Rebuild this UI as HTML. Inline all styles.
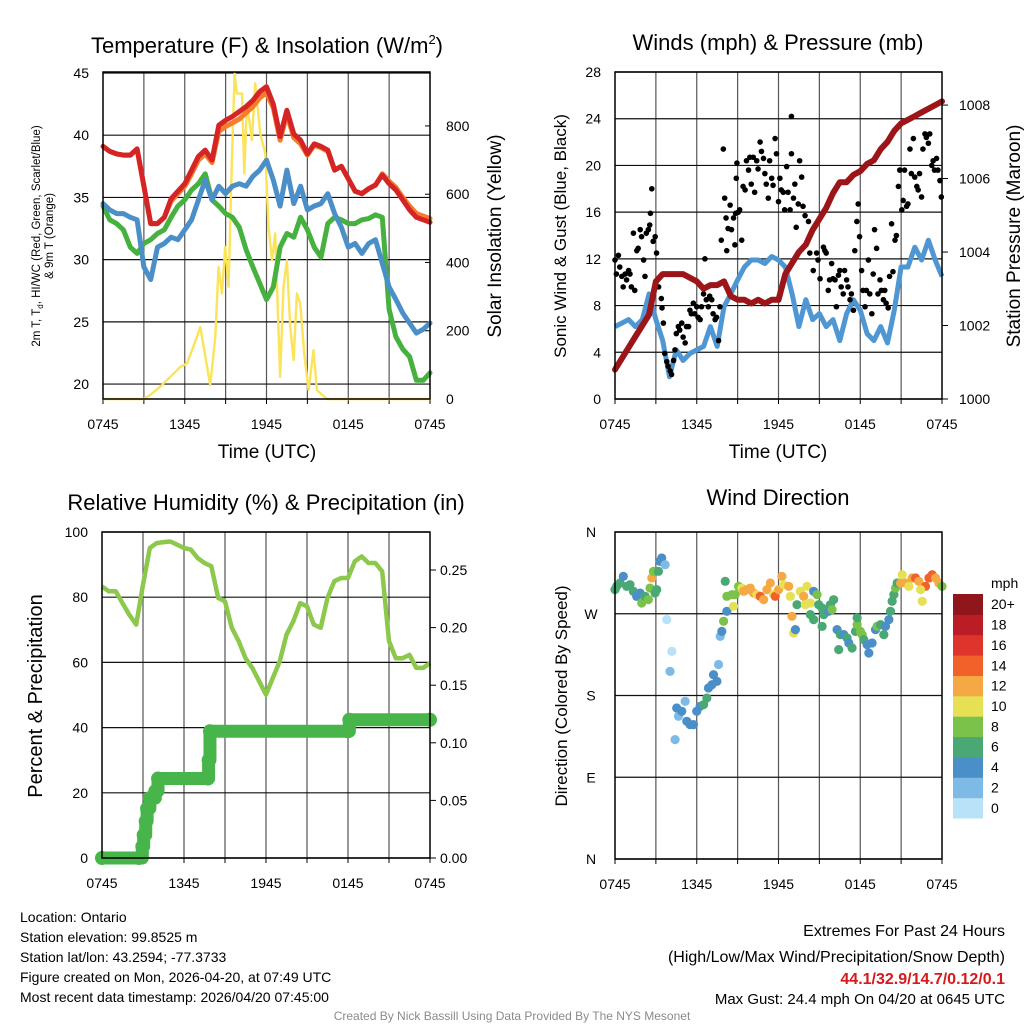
<!DOCTYPE html>
<html><head><meta charset="utf-8"><style>
html,body{margin:0;padding:0;background:#fff;}
svg{display:block;font-family:"Liberation Sans",Arial,sans-serif;}
</style></head><body>
<svg id="s" width="1024" height="1024" viewBox="0 0 1024 1024" xmlns="http://www.w3.org/2000/svg">
<g><text x="267" y="53" font-size="22" text-anchor="middle">Temperature (F) &amp; Insolation (W/m<tspan font-size="13" dy="-9">2</tspan><tspan dy="9">)</tspan></text></g>
<text x="778" y="50" font-size="22" text-anchor="middle">Winds (mph) &amp; Pressure (mb)</text>
<text x="266" y="510" font-size="22" text-anchor="middle">Relative Humidity (%) &amp; Precipitation (in)</text>
<text x="778" y="505" font-size="22" text-anchor="middle">Wind Direction</text>
<text x="267" y="458" font-size="19" text-anchor="middle">Time (UTC)</text>
<text x="778" y="458" font-size="19" text-anchor="middle">Time (UTC)</text>
<g><text transform="translate(40,236) rotate(-90)" font-size="11.5" text-anchor="middle">2m T, T<tspan font-size="8" dy="3">d</tspan><tspan dy="-3">, HI/WC (Red, Green, Scarlet/Blue)</tspan></text>
<text transform="translate(53,236) rotate(-90)" font-size="11.5" text-anchor="middle">&amp; 9m T (Orange)</text></g>
<text transform="translate(501,236) rotate(-90)" font-size="19" text-anchor="middle">Solar Insolation (Yellow)</text>
<text transform="translate(566,236) rotate(-90)" font-size="17" text-anchor="middle">Sonic Wind &amp; Gust (Blue, Black)</text>
<text transform="translate(1020,236) rotate(-90)" font-size="19" text-anchor="middle">Station Pressure (Maroon)</text>
<text transform="translate(42,696) rotate(-90)" font-size="20" text-anchor="middle">Percent &amp; Precipitation</text>
<text transform="translate(567,696) rotate(-90)" font-size="17" text-anchor="middle">Direction (Colored By Speed)</text>
<g font-size="14">
<text x="20" y="922">Location: Ontario</text>
<text x="20" y="942">Station elevation: 99.8525 m</text>
<text x="20" y="962">Station lat/lon: 43.2594; -77.3733</text>
<text x="20" y="982">Figure created on Mon, 2026-04-20, at 07:49 UTC</text>
<text x="20" y="1002">Most recent data timestamp: 2026/04/20 07:45:00</text>
</g>
<g text-anchor="end">
<text x="1005" y="936" font-size="16">Extremes For Past 24 Hours</text>
<text x="1005" y="962" font-size="16">(High/Low/Max Wind/Precipitation/Snow Depth)</text>
<text x="1005" y="984" font-size="16" font-weight="bold" fill="#d7191c">44.1/32.9/14.7/0.12/0.1</text>
<text x="1005" y="1004" font-size="15">Max Gust: 24.4 mph On 04/20 at 0645 UTC</text>
</g>
<text x="512" y="1020" font-size="12" fill="#8a8a8a" text-anchor="middle">Created By Nick Bassill Using Data Provided By The NYS Mesonet</text>
</svg>
<script>
// ---------- data ----------
const hours = [0,0.5,1,1.5,2,2.5,3,3.5,4,4.5,5,5.5,6,6.5,7,7.5,8,8.5,9,9.5,10,10.5,11,11.5,12,12.5,13,13.5,14,14.5,15,15.5,16,16.5,17,17.5,18,18.5,19,19.5,20,20.5,21,21.5,22,22.5,23,23.5,24];
const tempRed = [39.1,38.7,38.5,38.4,38.4,38.9,35.9,32.9,32.9,33.4,34.9,35.5,36.1,37.2,38.3,38.8,38.0,40.8,41.2,41.5,41.9,42.3,42.8,43.5,43.9,42.5,39.9,42.0,40.1,39.6,38.5,39.3,39.1,38.8,37.2,37.5,36.5,35.5,35.3,35.7,36.0,36.8,36.1,35.6,34.8,34.0,33.4,33.2,33.0];
const temp9m = [39.1,38.7,38.5,38.4,38.4,38.9,35.9,32.9,32.9,33.4,34.7,35.3,35.9,36.9,38.0,38.5,37.8,40.3,40.7,41.0,41.3,41.8,42.3,43.0,43.4,42.2,39.6,41.7,39.8,39.3,38.4,39.2,39.0,38.7,37.2,37.5,36.5,35.5,35.3,35.7,36.0,36.9,36.3,35.8,35.0,34.3,33.7,33.5,33.3];
const dewpoint = [34.3,33.2,32.9,32.4,31.0,30.5,31.3,31.6,32.1,32.4,33.4,34.3,34.8,35.6,36.1,36.9,34.8,34.3,33.7,33.4,32.6,30.8,29.4,28.1,26.8,27.8,31.0,32.1,31.8,33.4,32.4,31.0,30.2,32.9,33.4,33.2,32.9,32.9,33.2,33.3,33.6,33.4,26.0,23.8,22.8,22.2,20.3,20.3,20.9];
const windChill = [34.5,34.0,33.7,33.7,33.4,33.2,29.4,28.4,31.0,31.3,31.8,31.6,32.4,33.2,34.8,36.4,34.8,35.9,35.3,35.9,36.1,35.9,36.7,37.2,38.0,36.4,34.3,37.2,34.5,35.9,34.0,34.3,34.5,35.3,33.7,32.6,31.0,31.3,30.5,31.3,31.6,29.7,27.8,26.8,25.7,24.9,24.1,24.4,24.9];
const solarHours = [0,2.98,3.47,4.2,4.94,5.67,6.16,6.53,6.89,7.14,7.38,7.87,8.24,8.48,8.73,8.97,9.22,9.46,9.66,9.83,10.2,10.37,10.56,10.93,11.17,11.54,11.91,12.15,12.4,12.64,13.0,13.25,13.5,13.74,13.99,14.23,14.47,14.77,15.09,15.45,15.7,16.43,24];
const solarW = [0,0,12,36,65,94,104,143,182,211,154,41,182,387,309,446,329,700,954,895,895,661,866,759,925,778,720,505,407,485,65,329,407,212,114,309,280,134,26,143,26,0,0];
const windSpeed = [6.2,6.5,6.8,6.2,6.8,9.0,6.8,5.0,1.9,4.2,3.3,3.9,4.2,4.5,6.2,4.5,7.9,9.0,10.2,11.3,11.9,11.9,11.6,12.2,11.9,11.3,9.0,6.2,8.5,6.8,7.3,6.2,6.8,5.0,7.3,8.5,7.6,5.6,5.0,6.2,4.8,7.6,11.3,11.3,13.0,11.9,13.6,11.9,10.5];
const pressure = [1000.8,1001.1,1001.4,1001.7,1002.0,1002.3,1003.2,1003.4,1003.4,1003.4,1003.4,1003.3,1003.2,1003.0,1003.1,1003.1,1003.2,1002.8,1002.7,1002.7,1002.6,1002.7,1002.6,1002.7,1002.7,1003.4,1003.7,1004.0,1004.2,1004.6,1004.9,1005.2,1005.6,1005.9,1005.9,1006.1,1006.2,1006.4,1006.5,1006.8,1007.0,1007.3,1007.5,1007.6,1007.7,1007.8,1007.9,1008.0,1008.1];
const gustHours = [0,0.1,0.25,0.35,0.5,0.6,0.75,0.85,1.0,1.1,1.2,1.35,1.45,1.6,1.7,1.85,1.95,2.1,2.2,2.3,2.45,2.55,2.6,2.7,2.8,2.95,3.05,3.2,3.4,3.45,3.55,3.65,3.8,3.9,4.05,4.15,4.3,4.4,4.5,4.65,4.75,4.9,5.0,5.15,5.25,5.4,5.5,5.6,5.75,5.85,6.0,6.1,6.25,6.35,6.5,6.6,6.7,6.85,6.95,7.1,7.2,7.35,7.45,7.6,7.7,7.8,7.95,8.05,8.15,8.2,8.3,8.45,8.55,8.7,8.8,8.85,8.9,8.95,9.05,9.15,9.3,9.4,9.55,9.65,9.8,9.9,10.0,10.15,10.25,10.4,10.5,10.65,10.75,10.9,11.0,11.1,11.25,11.35,11.5,11.6,11.75,11.85,12.0,12.1,12.2,12.35,12.45,12.6,12.7,12.85,12.95,12.95,13.1,13.2,13.3,13.45,13.55,13.7,13.8,13.95,14.2,14.3,14.55,14.8,14.9,15.05,15.15,15.3,15.4,15.5,15.65,15.75,15.9,16.0,16.15,16.25,16.4,16.5,16.6,16.75,16.85,17.0,17.1,17.25,17.35,17.5,17.6,17.75,17.85,17.95,18.1,18.2,18.35,18.45,18.6,18.7,18.85,18.95,19.05,19.2,19.3,19.45,19.55,19.7,19.8,19.9,20.05,20.15,20.3,20.4,20.55,20.65,20.8,20.9,21.05,21.15,21.25,21.4,21.5,21.65,21.75,21.9,22.0,22.15,22.25,22.35,22.5,22.6,22.75,22.85,23.0,23.1,23.25,23.35,23.45,23.6,23.7,23.85,23.95];
const gustMph = [11.9,10.7,12.3,11.3,10.5,9.6,10.7,10.2,11.0,10.7,9.6,14.2,9.3,12.7,12.9,14.5,13.9,11.9,10.5,14.2,14.5,14.9,15.9,18.0,13.5,13.9,12.5,9.6,8.6,7.8,6.5,3.9,3.2,2.8,2.4,2.1,3.3,4.2,5.6,6.2,5.9,6.5,5.3,4.8,6.2,6.2,7.6,7.3,8.2,7.3,7.9,7.0,6.8,7.9,9.0,12.0,8.5,7.9,8.8,8.5,7.3,6.8,7.0,5.0,7.9,13.6,21.4,17.2,15.5,12.7,14.6,16.6,14.5,15.5,13.2,15.9,18.9,20.2,16.0,16.2,13.6,18.2,17.9,20.4,19.6,20.7,18.4,20.7,17.7,20.4,19.7,22.0,21.2,20.6,19.3,18.4,17.2,20.4,18.9,18.3,22.3,21.0,16.9,18.9,17.9,17.7,16.2,19.9,17.7,16.2,21.0,24.2,17.2,18.4,14.7,16.7,20.4,19.0,16.5,15.7,15.2,12.5,11.0,12.5,11.9,10.3,15.7,13.0,12.7,12.5,9.3,10.2,11.6,10.3,10.2,7.9,10.6,11.0,9.6,9.0,11.0,10.2,9.6,8.5,9.0,7.6,12.7,15.2,16.7,13.9,11.0,9.3,7.9,9.3,11.9,9.0,7.3,10.7,14.5,12.9,9.0,10.2,9.3,8.5,9.3,8.2,7.8,10.5,15.0,10.9,13.6,14.0,18.2,19.6,16.2,17.0,19.6,16.5,16.7,21.4,19.3,22.3,19.0,18.2,17.9,19.3,17.3,21.4,22.7,22.4,21.9,22.7,20.0,20.4,19.6,20.6,19.6,18.7,17.3];
const rh = [83.3,81.8,81.8,78.2,74.6,71.6,83.8,95.1,96.6,96.9,97.1,96.1,95.1,94.6,92.0,90.5,89.5,79.8,78.7,70.6,66.5,61.3,58.3,54.2,50.1,55.2,60.3,68.5,72.6,78.2,77.2,71.6,70.6,79.8,84.9,85.9,85.9,91.0,92.5,90.5,90.5,87.9,66.5,61.3,61.3,62.3,58.3,58.3,59.8];
const precipHours = [0,2.7,2.95,3.05,3.2,3.3,3.5,3.9,4.1,7.75,7.8,7.9,18.0,18.1,24];
const precipIn = [0,0,0.01,0.02,0.032,0.043,0.052,0.058,0.069,0.069,0.085,0.11,0.11,0.12,0.12];
const dirHours = [0,0.12,0.37,0.61,0.86,1.1,1.35,1.59,1.84,1.96,2.21,2.45,2.57,2.7,2.82,3.06,2.94,3.19,3.31,3.43,3.68,3.8,4.17,4.04,4.41,4.53,4.66,4.9,5.15,5.27,5.51,5.76,6.0,6.25,6.5,6.74,6.86,7.11,7.23,7.48,7.6,7.72,7.84,7.97,8.21,8.09,8.21,8.58,8.7,8.82,9.07,9.31,9.44,9.68,9.93,10.17,10.42,10.66,10.91,11.15,11.4,11.64,11.76,12.01,12.25,12.38,12.75,12.87,12.99,13.11,13.24,13.36,13.6,13.85,14.09,13.97,14.34,14.58,14.83,14.95,15.2,15.32,15.56,15.81,16.05,15.69,15.93,14.34,14.58,15.2,16.3,16.54,16.42,16.79,17.03,17.16,17.4,17.65,17.77,17.77,18.01,18.14,18.26,18.5,18.63,18.87,19.12,19.24,19.49,19.73,19.85,20.1,20.22,20.34,20.47,20.59,20.71,20.96,21.08,21.32,21.57,21.81,22.06,22.3,22.55,22.79,23.04,23.28,23.53,23.77,24.0,22.43];
const dirDeg = [296.5,300.2,303.9,311.2,300.2,302.0,294.7,289.2,292.8,281.8,289.2,285.5,298.3,309.4,316.7,296.5,292.8,316.7,327.7,331.4,324.0,263.5,228.6,206.6,131.4,166.2,157.1,162.6,173.6,151.6,147.9,147.9,162.6,168.1,169.9,177.2,188.3,191.9,202.9,195.6,214.1,245.1,250.6,261.7,272.7,305.7,289.2,291.0,278.2,291.0,300.2,298.3,294.7,296.5,298.3,292.8,291.0,289.2,285.5,296.5,303.9,291.0,289.2,296.5,311.2,302.0,300.2,289.2,267.2,248.8,252.5,280.0,294.7,289.2,300.2,280.0,281.8,294.7,291.0,280.0,276.3,269.0,274.5,280.0,285.5,272.7,274.5,269.0,263.5,256.1,252.5,247.0,230.5,247.0,243.3,237.8,232.3,250.6,258.0,265.4,250.6,247.0,241.5,236.0,226.8,237.8,252.5,256.1,258.0,247.0,256.1,263.5,272.7,283.7,291.0,298.3,303.9,303.9,313.0,303.9,300.2,309.4,309.4,305.7,283.7,300.2,309.4,313.0,309.4,303.9,300.2,296.5];
const dirSpeed = [7,7,7,5,7,7,7,5,5,9,7,9,9,13,9,7,7,7,5,5,3,1,1,3,3,5,3,5,3,5,5,5,5,5,7,7,5,5,5,5,3,3,5,9,5,7,9,9,11,9,9,11,13,13,13,13,11,15,13,13,13,11,15,13,13,11,13,11,13,11,5,7,11,13,11,11,11,5,9,7,7,7,7,7,7,5,9,7,7,7,5,7,7,5,7,5,7,7,9,7,9,9,7,5,5,5,5,9,7,7,5,5,7,7,7,9,7,13,11,13,11,13,15,13,11,15,15,15,13,13,9,11];
const speedColors = ['#b8e2f8','#7dbbe6','#4a8fc8','#4aa874','#7bc24a','#e6e055','#f5a944','#f0622a','#dd352b','#ba1d26','#8f161b'];
const speedLabels = ['0','2','4','6','8','10','12','14','16','18','20+'];
const timeTickHours = [0,6,12,18,24];
const timeTickLabels = ['0745','1345','1945','0145','0745'];

// ---------- helpers ----------
const NS='http://www.w3.org/2000/svg';
const svg=document.getElementById('s');
function mk(tag,attrs,parent){const e=document.createElementNS(NS,tag);for(const k in attrs)e.setAttribute(k,attrs[k]);(parent||svg).appendChild(e);return e;}
function scale(d0,d1,p0,p1){return v=>p0+(v-d0)/(d1-d0)*(p1-p0);}
function pathD(xs,ys,fx,fy){return xs.map((h,i)=>(i?'L':'M')+fx(h).toFixed(1)+' '+fy(ys[i]).toFixed(1)).join(' ');}

function frame(P,name){
  const g=mk('g',{});
  
  
  for(let h=3;h<24;h+=3){
    const l=mk('line',{x1:P.fx(h),x2:P.fx(h),y1:P.y0,y2:P.y1,stroke:'#555','stroke-width':1.2},g);
    
    
  }
  timeTickHours.forEach((h,i)=>{
    const t=mk('text',{x:P.fx(h),y:P.y1+30,'font-size':14,'text-anchor':'middle'},g);
    t.textContent=timeTickLabels[i];
    
    
  });
  for(let h=0;h<=24;h+=3){mk('line',{x1:P.fx(h),x2:P.fx(h),y1:P.y1,y2:P.y1+5,stroke:'#000'},g);}
  return g;
}
function border(P,g){mk('rect',{x:P.x0,y:P.y0,width:P.x1-P.x0,height:P.y1-P.y0,fill:'none',stroke:'#000','stroke-width':1.5},g);}
function hgrid(P,vals,fy,g){vals.forEach(v=>{const l=mk('line',{x1:P.x0,x2:P.x1,y1:fy(v),y2:fy(v),stroke:'#111','stroke-width':1.2},g);
  
  });}
function ticks(vals,labels,fy,x,anchor,g,name,size){vals.forEach((v,i)=>{const t=mk('text',{x:x,y:fy(v)+5,'font-size':size||14,'text-anchor':anchor},g);t.textContent=labels[i];
  
  });}

// ---------- Panel 1 ----------
{
const P={x0:103,x1:430,y0:72,y1:399};P.fx=scale(0,24,P.x0,P.x1);
const fy=scale(18.8,45.08,399,72), fs=scale(0,958,399,72);
const g=frame(P,'temperature-panel');
const tv=[20,25,30,35,40,45];hgrid(P,tv,fy,g);
ticks(tv,tv.map(String),fy,P.x0-14,'end',g,'temp-y-tick');
const sv=[0,200,400,600,800];ticks(sv,sv.map(String),fs,P.x1+16,'start',g,'solar-y-tick');
sv.forEach(v=>mk('line',{x1:P.x1-5,x2:P.x1,y1:fs(v),y2:fs(v),stroke:'#000'},g));
const s=mk('path',{d:pathD(solarHours,solarW,P.fx,fs),fill:'none',stroke:'#fbe35a','stroke-width':2.4,'stroke-linejoin':'round'},g);

const ser=[[dewpoint,'#47b13f','dewpoint-line'],[windChill,'#4a8fc8','wind-chill-line'],[temp9m,'#f47c2a','temp-9m-line'],[tempRed,'#d42426','temp-2m-line']];
ser.forEach(([d,c,n])=>{const p=mk('path',{d:pathD(hours,d,P.fx,fy),fill:'none',stroke:c,'stroke-width':5,'stroke-linejoin':'round','stroke-linecap':'round'},g);
  });
border(P,g);
}
// ---------- Panel 2 ----------
{
const P={x0:615,x1:942,y0:72,y1:399};P.fx=scale(0,24,P.x0,P.x1);
const fy=scale(0,28,399,72), fp=scale(1000,1008.9,399,72);
const g=frame(P,'wind-panel');
const wv=[0,4,8,12,16,20,24,28];hgrid(P,wv,fy,g);
ticks(wv,wv.map(String),fy,P.x0-14,'end',g,'wind-y-tick');
const pv=[1000,1002,1004,1006,1008];ticks(pv,pv.map(String),fp,P.x1+17,'start',g,'pressure-y-tick');
pv.forEach(v=>mk('line',{x1:P.x1,x2:P.x1+6,y1:fp(v),y2:fp(v),stroke:'#000'},g));
const w=mk('path',{d:pathD(hours,windSpeed,P.fx,fy),fill:'none',stroke:'#4f97d3','stroke-width':5,'stroke-linejoin':'round'},g);

gustHours.forEach((h,i)=>{const c=mk('circle',{cx:P.fx(h),cy:fy(gustMph[i]),r:2.8,fill:'#000'},g);
  });
const p=mk('path',{d:pathD(hours,pressure,P.fx,fp),fill:'none',stroke:'#9b1519','stroke-width':6,'stroke-linejoin':'round','stroke-linecap':'round'},g);

border(P,g);
}
// ---------- Panel 3 ----------
{
const P={x0:102,x1:430,y0:532,y1:858};P.fx=scale(0,24,P.x0,P.x1);
const fy=scale(0,100,858,532), fr=scale(0,0.283,858,532);
const g=frame(P,'humidity-panel');
const rv=[0,20,40,60,80,100];hgrid(P,rv,fy,g);
ticks(rv,rv.map(String),fy,P.x0-14,'end',g,'humidity-y-tick');
const pv=[0,0.05,0.1,0.15,0.2,0.25];ticks(pv,pv.map(v=>v.toFixed(2)),fr,P.x1+10,'start',g,'precip-y-tick');
pv.forEach(v=>mk('line',{x1:P.x1,x2:P.x1+6,y1:fr(v),y2:fr(v),stroke:'#000'},g));
const r=mk('path',{d:pathD(hours,rh,P.fx,fy),fill:'none',stroke:'#8cc84b','stroke-width':4.5,'stroke-linejoin':'round'},g);

let d='';precipHours.forEach((h,i)=>{if(i){d+='L'+P.fx(h)+' '+fr(precipIn[i-1])+' ';}d+=(i?'L':'M')+P.fx(h)+' '+fr(precipIn[i])+' ';});
const pl=mk('path',{d:d,fill:'none',stroke:'#47b549','stroke-width':13,'stroke-linecap':'round','stroke-linejoin':'round'},g);

precipHours.forEach((h,i)=>{const c=mk('circle',{cx:P.fx(h),cy:fr(precipIn[i]),r:7,fill:'#47b549'},g);
  });
border(P,g);
}
// ---------- Panel 4 ----------
{
const P={x0:615,x1:942,y0:532,y1:859};P.fx=scale(0,24,P.x0,P.x1);
const fy=scale(0,360,859,532);
const g=frame(P,'wind-direction-panel');
const dv=[0,90,180,270,360];hgrid(P,dv,fy,g);
ticks(dv,['N','E','S','W','N'],fy,591,'middle',g,'direction-y-tick');
dirHours.forEach((h,i)=>{const k=Math.min(10,Math.floor(dirSpeed[i]/2));
  const c=mk('circle',{cx:P.fx(h),cy:fy(dirDeg[i]),r:4.6,fill:speedColors[k]},g);
  });
border(P,g);
const lg=mk('g',{});

const t=mk('text',{x:991,y:588,'font-size':14},lg);t.textContent='mph';
const bh=224/11;
speedColors.forEach((c,i)=>{const y=818-(i+1)*bh;mk('rect',{x:953,y:y,width:30,height:bh+0.5,fill:c},lg);
  const l=mk('text',{x:991,y:y+bh/2+5,'font-size':14},lg);l.textContent=speedLabels[i];
  });
}
</script>
</body></html>
